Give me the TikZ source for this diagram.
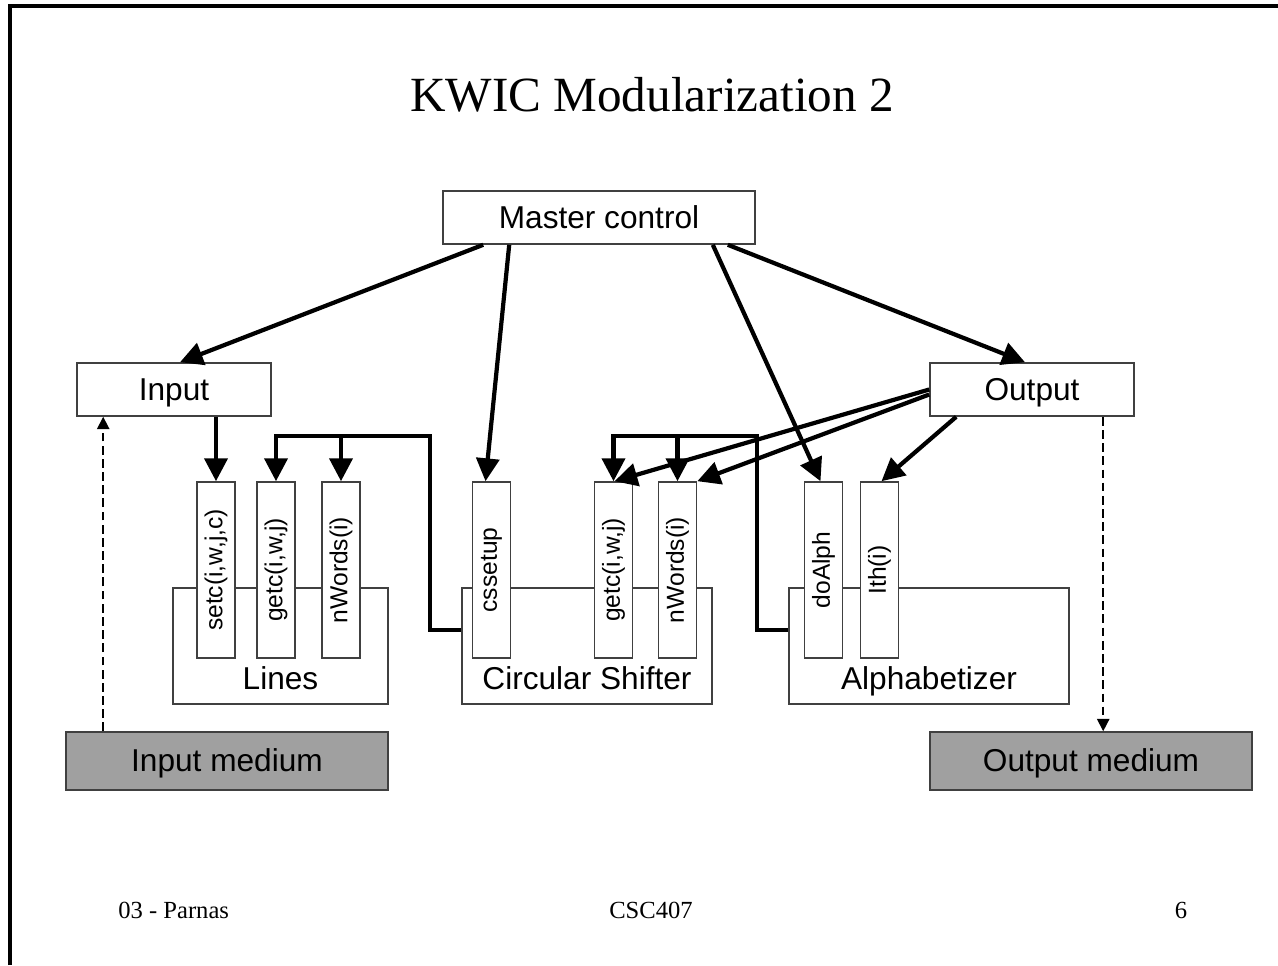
\documentclass[tikz,border=0pt]{standalone}
\usepackage{fontspec}
\setmainfont{Liberation Sans}
\newfontfamily\slidefont{Liberation Serif}
\usepackage{graphicx}
\usetikzlibrary{arrows.meta, calc}

% one unit = one pixel of the slide
\newlength{\pxl}
\setlength{\pxl}{0.02cm}
\newcommand{\vlabel}[1]{\rotatebox{90}{#1}}
\definecolor{mediumfill}{RGB}{160,160,160}
\definecolor{edgegray}{RGB}{64,64,64}

\begin{document}
\begin{tikzpicture}[x=0.02cm, y=-0.02cm, font=\fontsize{18}{20}\selectfont,
    >={Triangle[length=13pt, width=13pt]},
    box/.style={draw=edgegray, line width=0.9pt, fill=white, inner sep=0pt, text height=12.5pt, text depth=0pt, minimum height=53\pxl},
    medium/.style={box, fill=mediumfill, minimum width=322\pxl, minimum height=58\pxl},
    module/.style={draw=edgegray, line width=0.9pt, minimum height=116\pxl, inner sep=0pt},
    modname/.style={anchor=base, inner sep=0pt},
    proc/.style={draw=edgegray, line width=0.9pt, fill=white, minimum width=38\pxl, minimum height=176\pxl, inner sep=0pt, font=\fontsize{14}{16}\selectfont},
    call/.style={->, line width=2.4pt, line join=miter},
    feed/.style={-{Triangle[length=7pt, width=7pt]}, dash pattern=on 5pt off 2.5pt, line width=0.9pt},
    footer/.style={font=\slidefont\fontsize{14}{16}\selectfont, inner sep=0pt}]
  \useasboundingbox (0,0) rectangle (1278,965);
  \draw[line width=2.3pt] (10,965) -- (10,6) -- (1278,6);

  \node[font=\slidefont\fontsize{28}{32}\selectfont, anchor=base, inner sep=0pt] (title) at (652,111) {KWIC Modularization 2};

  % top level
  \node[box, minimum width=312\pxl] (master) at (599,217.5) {Master control};
  \node[box, minimum width=194\pxl] (input) at (174,389.5) {Input};
  \node[box, minimum width=204\pxl] (output) at (1032,389.5) {Output};

  % modules
  \node[module, minimum width=215\pxl] (lines) at (280.5,646) {};
  \node[module, minimum width=250\pxl] (shifter) at (587,646) {};
  \node[module, minimum width=280\pxl] (alpha) at (929,646) {};
  \node[modname] (lineslbl) at ($(lines.south)+(0,-15)$) {Lines};
  \node[modname] (shifterlbl) at ($(shifter.south)+(0,-15)$) {Circular Shifter};
  \node[modname] (alphalbl) at ($(alpha.south)+(0,-15)$) {Alphabetizer};

  % access routines
  \node[proc] (setc) at (216,570) {\vlabel{setc(i,w,j,c)}};
  \node[proc] (lgetc) at (276,570) {\vlabel{getc(i,w,j)}};
  \node[proc] (lwords) at (341,570) {\vlabel{nWords(i)}};
  \node[proc] (cssetup) at (491.5,570) {\vlabel{cssetup}};
  \node[proc] (sgetc) at (613.5,570) {\vlabel{getc(i,w,j)}};
  \node[proc] (swords) at (677.5,570) {\vlabel{nWords(i)}};
  \node[proc] (doalph) at (823.5,570) {\vlabel{doAlph}};
  \node[proc] (ith) at (879.5,570) {\vlabel{Ith(i)}};

  % media
  \node[medium] (inmed) at (227,761) {Input medium};
  \node[medium] (outmed) at (1091,761) {Output medium};

  % calls from master control
  \draw[call] ($(master.south west)+(41,0)$) -- ($(input.north)+(6,0)$);
  \draw[call] ($(master.south west)+(67,0)$) -- ($(cssetup.north)+(-6,0)$);
  \draw[call] ($(master.south east)+(-43,0)$) -- ($(doalph.north)+(-3,0)$);
  \draw[call] ($(master.south east)+(-28,0)$) -- ($(output.north)+(-7,0)$);

  \draw[call] (input.south -| setc.north) -- (setc.north);

  % circular shifter uses lines
  \coordinate (lbus) at (430,436);
  \draw[call] ($(shifter.west)+(0,-16)$) -| (lbus) -| (lgetc.north);
  \draw[call] (lwords.north |- lbus) -- (lwords.north);

  % alphabetizer uses circular shifter
  \coordinate (sbus) at (757,436);
  \draw[call] ($(alpha.west)+(0,-16)$) -| (sbus) -| (sgetc.north);
  \draw[call] (swords.north |- sbus) -- (swords.north);

  % output reads shifter and alphabetizer
  \draw[call] (output.west) -- ($(sgetc.north)+(1,0)$);
  \draw[call] ($(output.west)+(0,5)$) -- (swords.north east);
  \draw[call] ($(output.south west)+(27,0)$) -- ($(ith.north)+(2,0)$);

  % data from and to the media
  \draw[feed] ($(inmed.north west)+(38,0)$) -- ($(input.south west)+(27,0)$);
  \draw[feed] ($(output.south west)+(174,0)$) -- ($(outmed.north west)+(174,0)$);

  \node[footer, anchor=base west] (unit) at (118,918) {03 - Parnas};
  \node[footer, anchor=base] (course) at (651,918) {CSC407};
  \node[footer, anchor=base] (page) at (1181,918) {6};
\end{tikzpicture}
\end{document}
